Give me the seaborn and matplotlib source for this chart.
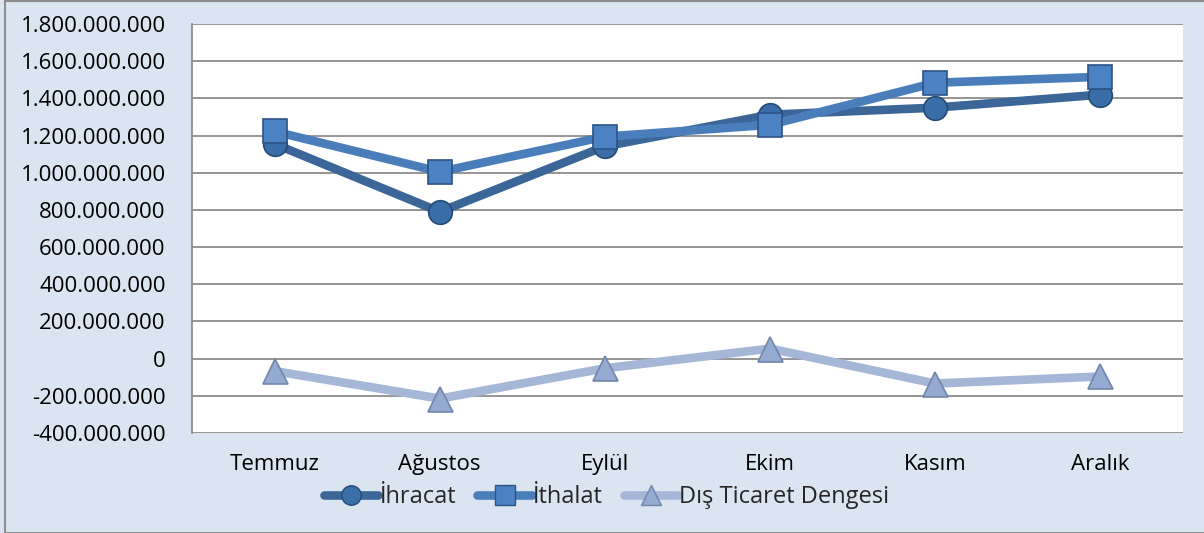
import matplotlib
matplotlib.use("Agg")
import matplotlib.pyplot as plt
import seaborn as sns
import pandas as pd
from matplotlib.lines import Line2D
from matplotlib.ticker import FuncFormatter, MultipleLocator
from matplotlib.patches import Rectangle

months = ["Temmuz", "Ağustos", "Eylül", "Ekim", "Kasım", "Aralık"]
ihracat = [1155000000, 790000000, 1142000000, 1312000000, 1350000000, 1420000000]
ithalat = [1222000000, 1005000000, 1194000000, 1258000000, 1484000000, 1516000000]
denge = [-67000000, -215000000, -52000000, 54000000, -134000000, -96000000]
series_names = ["İhracat", "İthalat", "Dış Ticaret Dengesi"]

df = pd.DataFrame({
    "Ay": months * 3,
    "Değer": ihracat + ithalat + denge,
    "Seri": [series_names[0]] * 6 + [series_names[1]] * 6 + [series_names[2]] * 6,
})

sns.set_theme(style="white")
plt.rcParams["font.family"] = ["Open Sans", "DejaVu Sans"]

line_colors = {"İhracat": "#3b6697", "İthalat": "#4a7ebb", "Dış Ticaret Dengesi": "#a5b7d6"}
marker_face = {"İhracat": "#3a6ea8", "İthalat": "#4a82c4", "Dış Ticaret Dengesi": "#95aad0"}
marker_edge = {"İhracat": "#254a75", "İthalat": "#2c5286", "Dış Ticaret Dengesi": "#6f86aa"}
markers = {"İhracat": "o", "İthalat": "s", "Dış Ticaret Dengesi": "^"}
msize = {"İhracat": 17, "İthalat": 17, "Dış Ticaret Dengesi": 18}
FS = 16.0

fig = plt.figure(figsize=(12.04, 5.33), dpi=100)
fig.patch.set_facecolor("#dbe5f1")
fig.patches.append(Rectangle((5 / 1204, 0.0), 1 - 5 / 1204 + 0.01, 1 - 1 / 533, transform=fig.transFigure,
                             fill=False, edgecolor="#8c8c8c", linewidth=1.5, zorder=0))
ax = fig.add_axes([192 / 1204, 100 / 533, (1183 - 192) / 1204, (433 - 24) / 533])
ax.set_facecolor("white")

for name in series_names:
    sub = df[df["Seri"] == name]
    sns.lineplot(data=sub, x="Ay", y="Değer", ax=ax, color=line_colors[name], linewidth=6.2,
                 marker=markers[name], markersize=msize[name], markerfacecolor=marker_face[name],
                 markeredgecolor=marker_edge[name], markeredgewidth=1.2, sort=False, legend=False,
                 zorder=3)

ax.set_xlim(-0.5, 5.5)
ax.set_ylim(-400000000, 1800000000)
ax.yaxis.set_major_locator(MultipleLocator(200000000))
ax.yaxis.set_major_formatter(FuncFormatter(lambda v, p: f"{int(round(v)):,}".replace(",", ".")))
ax.grid(axis="y", color="#8c8c8c", linewidth=1.3)
ax.grid(axis="x", visible=False)
ax.set_axisbelow(True)
for s in ["top", "right", "bottom"]:
    ax.spines[s].set_visible(False)
ax.spines["left"].set_color("#8c8c8c")
ax.spines["left"].set_linewidth(1.3)
ax.set_xlabel("")
ax.set_ylabel("")
ax.tick_params(axis="y", labelsize=FS, colors="black", pad=19, length=0)
ax.tick_params(axis="x", labelsize=FS, colors="black", pad=15, length=0)

handles = [Line2D([0], [0], color=line_colors[n], linewidth=6.2, marker=markers[n], markersize=msize[n] - 3,
                  markerfacecolor=marker_face[n], markeredgecolor=marker_edge[n]) for n in series_names]
fig.legend(handles, series_names, loc="center", bbox_to_anchor=(0.504, 1 - 497 / 533), ncol=3, frameon=False,
           fontsize=17, handlelength=2.3, handletextpad=0.05, columnspacing=0.9)

fig.savefig("out.png", dpi=100, facecolor=fig.get_facecolor())
